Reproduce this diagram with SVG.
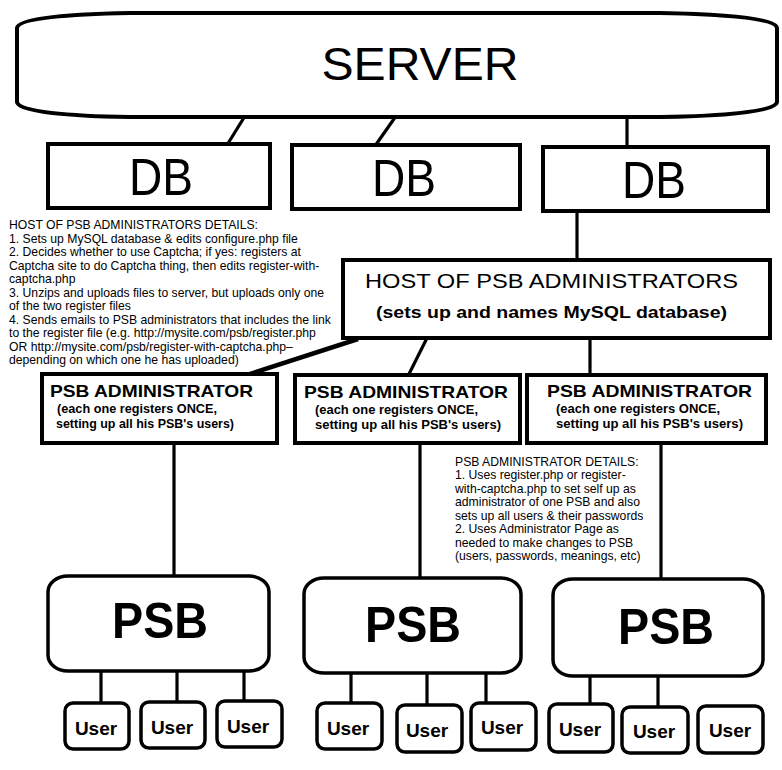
<svg xmlns="http://www.w3.org/2000/svg" width="782" height="770" viewBox="0 0 782 770">
<style>
.box{fill:#fff;stroke:#000;stroke-width:4}
.rbox{fill:#fff;stroke:#000;stroke-width:3.5}
.ln{stroke:#000;stroke-width:3.2;fill:none}
.t{font-family:"Liberation Sans",Arial,sans-serif;fill:#000}
.b{font-weight:bold}
.c{text-anchor:middle}
.small{font-size:12.2px}
.title{font-size:17px;font-weight:bold}
.sub{font-size:13px;font-weight:bold}
.user{font-size:19px;font-weight:bold;text-anchor:middle}
.psb{font-size:50px;font-weight:bold;text-anchor:middle}
.db{font-size:51px;text-anchor:middle}
</style>
<rect width="782" height="770" fill="#fff"/>

<g id="connectors">
  <line class="ln" x1="245" y1="116" x2="227" y2="145"/>
  <line class="ln" x1="396" y1="116" x2="375" y2="146"/>
  <line class="ln" x1="627" y1="116" x2="627" y2="148"/>
  <line class="ln" x1="577" y1="210" x2="577" y2="261"/>
  <line class="ln" x1="358" y1="339" x2="247" y2="375" style="stroke-width:4.5"/>
  <line class="ln" x1="427" y1="338" x2="408" y2="376"/>
  <line class="ln" x1="590" y1="338" x2="590" y2="376"/>
  <line class="ln" x1="174" y1="443" x2="174" y2="577"/>
  <line class="ln" x1="420" y1="442" x2="420" y2="579"/>
  <line class="ln" x1="661" y1="442" x2="661" y2="580"/>
  <line class="ln" x1="101" y1="671" x2="101" y2="703"/>
  <line class="ln" x1="177" y1="671" x2="177" y2="702"/>
  <line class="ln" x1="244" y1="671" x2="244" y2="701"/>
  <line class="ln" x1="351" y1="673" x2="351" y2="703"/>
  <line class="ln" x1="427" y1="673" x2="427" y2="705"/>
  <line class="ln" x1="486" y1="673" x2="486" y2="703"/>
  <line class="ln" x1="590" y1="676" x2="590" y2="704"/>
  <line class="ln" x1="658" y1="676" x2="658" y2="707"/>
</g>

<g id="server">
  <path class="box" d="M17,28 C18,18 70,14 130,13 L660,13 C720,14 776,18 777,28 L777,102 C776,112 720,116 660,117 L130,117 C70,116 18,112 17,102 Z"/>
  <text class="t c" x="420" y="80" font-size="46" textLength="197" lengthAdjust="spacingAndGlyphs">SERVER</text>
</g>

<g id="db1">
  <rect class="box" x="48" y="144" width="222" height="64"/>
  <text class="t db" x="161" y="195" textLength="64" lengthAdjust="spacingAndGlyphs">DB</text>
</g>
<g id="db2">
  <rect class="box" x="292" y="145" width="228" height="64"/>
  <text class="t db" x="404" y="196" textLength="64" lengthAdjust="spacingAndGlyphs">DB</text>
</g>
<g id="db3">
  <rect class="box" x="543" y="147" width="225" height="64"/>
  <text class="t db" x="654" y="198" textLength="64" lengthAdjust="spacingAndGlyphs">DB</text>
</g>

<g id="host-details">
  <text class="t small" x="9" y="229">HOST OF PSB ADMINISTRATORS DETAILS:</text>
  <text class="t small" x="9" y="242.5">1. Sets up MySQL database &amp; edits configure.php file</text>
  <text class="t small" x="9" y="256">2. Decides whether to use Captcha; if yes: registers at</text>
  <text class="t small" x="9" y="269.5">Captcha site to do Captcha thing, then edits register-with-</text>
  <text class="t small" x="9" y="283">captcha.php</text>
  <text class="t small" x="9" y="296.5">3. Unzips and uploads files to server, but uploads only one</text>
  <text class="t small" x="9" y="310">of the two register files</text>
  <text class="t small" x="9" y="323.5">4. Sends emails to PSB administrators that includes the link</text>
  <text class="t small" x="9" y="337">to the register file (e.g. http://mysite.com/psb/register.php</text>
  <text class="t small" x="9" y="350.5">OR http://mysite.com/psb/register-with-captcha.php–</text>
  <text class="t small" x="9" y="364">depending on which one he has uploaded)</text>
</g>

<g id="host">
  <rect class="box" x="343" y="260" width="427" height="78"/>
  <text class="t" x="365" y="288" font-size="20" textLength="373" lengthAdjust="spacingAndGlyphs">HOST OF PSB ADMINISTRATORS</text>
  <text class="t b" x="376" y="318" font-size="16" textLength="351" lengthAdjust="spacingAndGlyphs">(sets up and names MySQL database)</text>
</g>

<g id="admin1">
  <rect class="box" x="42" y="374" width="235" height="69"/>
  <text class="t title" x="50" y="397" textLength="203" lengthAdjust="spacingAndGlyphs">PSB ADMINISTRATOR</text>
  <text class="t sub" x="57" y="413" textLength="160" lengthAdjust="spacingAndGlyphs">(each one registers ONCE,</text>
  <text class="t sub" x="56" y="428" textLength="178" lengthAdjust="spacingAndGlyphs">setting up all his PSB's users)</text>
</g>
<g id="admin2">
  <rect class="box" x="295" y="375" width="225" height="68"/>
  <text class="t title" x="304" y="398" textLength="204" lengthAdjust="spacingAndGlyphs">PSB ADMINISTRATOR</text>
  <text class="t sub" x="315" y="414" textLength="163" lengthAdjust="spacingAndGlyphs">(each one registers ONCE,</text>
  <text class="t sub" x="315" y="429" textLength="186" lengthAdjust="spacingAndGlyphs">setting up all his PSB's users)</text>
</g>
<g id="admin3">
  <rect class="box" x="527" y="375" width="239" height="68"/>
  <text class="t title" x="547" y="397" textLength="205" lengthAdjust="spacingAndGlyphs">PSB ADMINISTRATOR</text>
  <text class="t sub" x="556" y="413" textLength="164" lengthAdjust="spacingAndGlyphs">(each one registers ONCE,</text>
  <text class="t sub" x="556" y="428" textLength="187" lengthAdjust="spacingAndGlyphs">setting up all his PSB's users)</text>
</g>

<g id="admin-details">
  <text class="t small" x="455" y="465.5">PSB ADMINISTRATOR DETAILS:</text>
  <text class="t small" x="455" y="479">1. Uses register.php or register-</text>
  <text class="t small" x="455" y="492.5">with-captcha.php to set self up as</text>
  <text class="t small" x="455" y="506">administrator of one PSB and also</text>
  <text class="t small" x="455" y="519.5">sets up all users &amp; their passwords</text>
  <text class="t small" x="455" y="533">2. Uses Administrator Page as</text>
  <text class="t small" x="455" y="546.5">needed to make changes to PSB</text>
  <text class="t small" x="455" y="560">(users, passwords, meanings, etc)</text>
</g>

<g id="psb1">
  <rect class="rbox" x="48" y="576" width="221" height="95" rx="20" ry="16"/>
  <text class="t psb" x="160" y="638" textLength="96" lengthAdjust="spacingAndGlyphs">PSB</text>
</g>
<g id="psb2">
  <rect class="rbox" x="304" y="578" width="217" height="95" rx="20" ry="16"/>
  <text class="t psb" x="413" y="642" textLength="96" lengthAdjust="spacingAndGlyphs">PSB</text>
</g>
<g id="psb3">
  <rect class="rbox" x="553" y="579" width="210" height="97" rx="20" ry="16"/>
  <text class="t psb" x="666" y="644" textLength="96" lengthAdjust="spacingAndGlyphs">PSB</text>
</g>

<g id="user1"><rect class="rbox" x="65" y="703" width="64" height="46" rx="8"/><text class="t user" x="96" y="735">User</text></g>
<g id="user2"><rect class="rbox" x="141" y="702" width="64" height="46" rx="8"/><text class="t user" x="172" y="734">User</text></g>
<g id="user3"><rect class="rbox" x="217" y="701" width="65" height="46" rx="8"/><text class="t user" x="248" y="733">User</text></g>
<g id="user4"><rect class="rbox" x="317" y="703" width="65" height="46" rx="8"/><text class="t user" x="348" y="735">User</text></g>
<g id="user5"><rect class="rbox" x="397" y="705" width="65" height="47" rx="8"/><text class="t user" x="427" y="737">User</text></g>
<g id="user6"><rect class="rbox" x="471" y="703" width="65" height="47" rx="8"/><text class="t user" x="502" y="734">User</text></g>
<g id="user7"><rect class="rbox" x="549" y="704" width="64" height="48" rx="8"/><text class="t user" x="580" y="736">User</text></g>
<g id="user8"><rect class="rbox" x="622" y="707" width="66" height="46" rx="8"/><text class="t user" x="654" y="738">User</text></g>
<g id="user9"><rect class="rbox" x="698" y="706" width="65" height="47" rx="8"/><text class="t user" x="730" y="737">User</text></g>
</svg>
